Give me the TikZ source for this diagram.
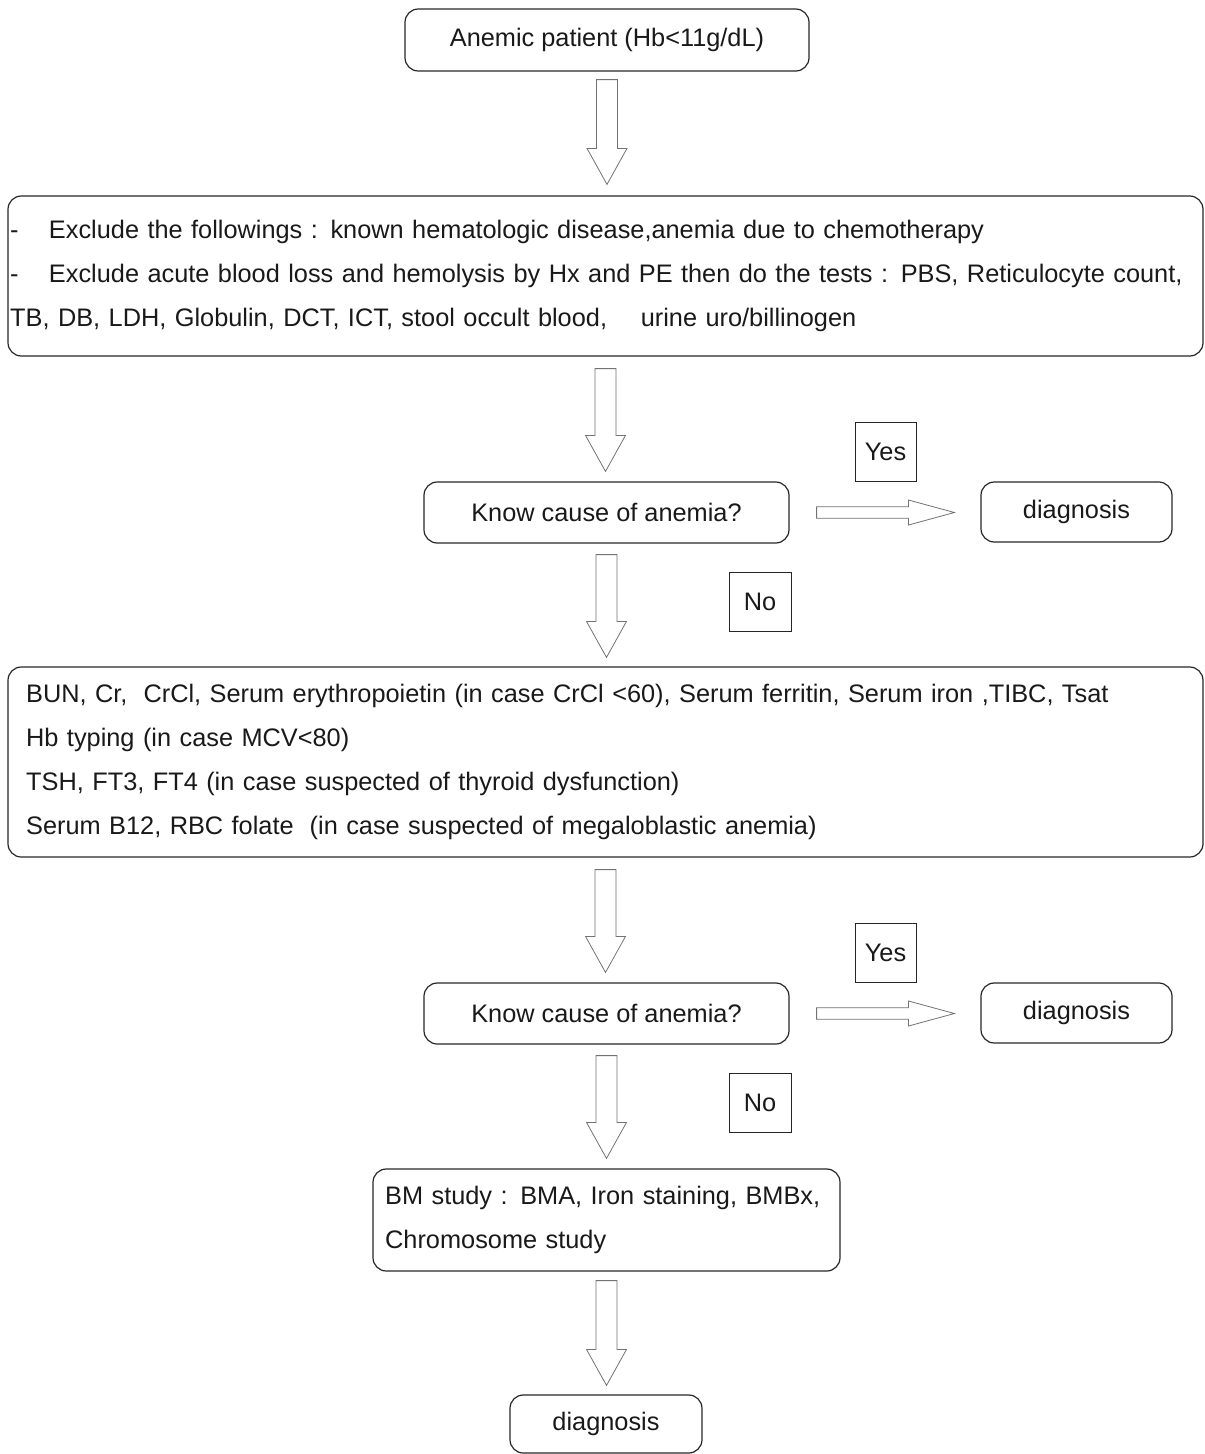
\documentclass[tikz,border=0pt]{standalone}
\usepackage{fontspec}
\setmainfont{Liberation Sans}
\usetikzlibrary{calc}

\tikzset{
  roundbox/.style={draw=black!85, line width=0.9pt, rounded corners=10pt,
    text=black!90, font=\fontsize{19}{33}\selectfont},
  answerbox/.style={draw=black!85, line width=0.75pt, text=black!90,
    font=\fontsize{19}{33}\selectfont},
  blockline/.style={draw=black!55, line width=0.6pt, fill=white}
}

% hollow block arrows between two named points
\newcommand{\downblock}[2]{%
  \draw[blockline] let \p1=(#1), \p2=(#2) in
    (\x1-7.9pt,\y1) -- (\x1+7.9pt,\y1) -- (\x1+7.9pt,\y2+27pt)
    -- (\x1+15pt,\y2+27pt) -- (\x1,\y2) -- (\x1-15pt,\y2+27pt)
    -- (\x1-7.9pt,\y2+27pt) -- cycle;}
\newcommand{\rightblock}[2]{%
  \draw[blockline] let \p1=(#1), \p2=(#2) in
    (\x1,\y1+4.3pt) -- (\x2-34.5pt,\y1+4.3pt) -- (\x2-34.5pt,\y1+9.4pt)
    -- (\x2,\y1) -- (\x2-34.5pt,\y1-9.4pt) -- (\x2-34.5pt,\y1-4.3pt)
    -- (\x1,\y1-4.3pt) -- cycle;}

\begin{document}
\begin{tikzpicture}[x=0.75pt,y=-0.75pt]
  \useasboundingbox (0,0) rectangle (1204,1454);

  \node[roundbox, minimum width=303pt, minimum height=46.5pt] (patient) at (607,40)
    {Anemic patient (Hb<11g/dL)};

  \node[roundbox, minimum width=896.25pt, minimum height=120pt, inner xsep=1.5pt,
    text width=893pt, align=left] (exclude) at (605.5,276)
    {-\hspace{1.2em}Exclude the followings : known hematologic disease,anemia due to chemotherapy\\
     -\hspace{1.2em}Exclude acute blood loss and hemolysis by Hx and PE then do the tests : PBS, Reticulocyte count,\\
     TB, DB, LDH, Globulin, DCT, ICT, stool occult blood,\hspace{1em} urine uro/billinogen};

  \node[roundbox, minimum width=273.75pt, minimum height=45.75pt] (know1) at (606.5,512.5)
    {Know cause of anemia?};
  \node[roundbox, minimum width=143.25pt, minimum height=45pt] (diag1) at (1076.5,512)
    {diagnosis};
  \node[answerbox, minimum width=45.75pt, minimum height=44.25pt] (yes1) at (885.5,451.5) {Yes};
  \node[answerbox, minimum width=46.5pt, minimum height=44.25pt] (no1) at (760,601.5) {No};

  \node[roundbox, minimum width=896.25pt, minimum height=142.5pt, inner xsep=13.5pt,
    text width=869pt, align=left] (tests) at (605.5,762)
    {BUN, Cr,\hspace{0.3em} CrCl, Serum erythropoietin (in case CrCl <60), Serum ferritin, Serum iron ,TIBC, Tsat\\
     Hb typing (in case MCV<80)\\
     TSH, FT3, FT4 (in case suspected of thyroid dysfunction)\\
     Serum B12, RBC folate\hspace{0.3em} (in case suspected of megaloblastic anemia)};

  \node[roundbox, minimum width=273.75pt, minimum height=45.75pt] (know2) at (606.5,1013.5)
    {Know cause of anemia?};
  \node[roundbox, minimum width=143.25pt, minimum height=45pt] (diag2) at (1076.5,1013)
    {diagnosis};
  \node[answerbox, minimum width=45.75pt, minimum height=44.25pt] (yes2) at (885.5,952.5) {Yes};
  \node[answerbox, minimum width=46.5pt, minimum height=44.25pt] (no2) at (760,1102.5) {No};

  \node[roundbox, minimum width=350.25pt, minimum height=76.5pt, inner xsep=9pt,
    text width=332pt, align=left] (bm) at (606.5,1220)
    {BM study : BMA, Iron staining, BMBx,\\ Chromosome study};

  \node[roundbox, minimum width=144pt, minimum height=43.5pt] (diag3) at (606,1424)
    {diagnosis};

  % arrows
  \downblock{[yshift=-6pt]patient.south}{[yshift=8.25pt]exclude.north}
  \downblock{[yshift=-9pt]exclude.south}{[yshift=7.5pt]know1.north}
  \downblock{[yshift=-8.25pt]know1.south}{[yshift=6.75pt]tests.north}
  \downblock{[yshift=-9pt]tests.south}{[yshift=7.5pt]know2.north}
  \downblock{[yshift=-8.25pt]know2.south}{[yshift=7.5pt]bm.north}
  \downblock{[yshift=-6.75pt]bm.south}{[yshift=6.75pt]diag3.north}
  \rightblock{[xshift=20.25pt]know1.east}{[xshift=-19.5pt]diag1.west}
  \rightblock{[xshift=20.25pt]know2.east}{[xshift=-19.5pt]diag2.west}
\end{tikzpicture}
\end{document}
